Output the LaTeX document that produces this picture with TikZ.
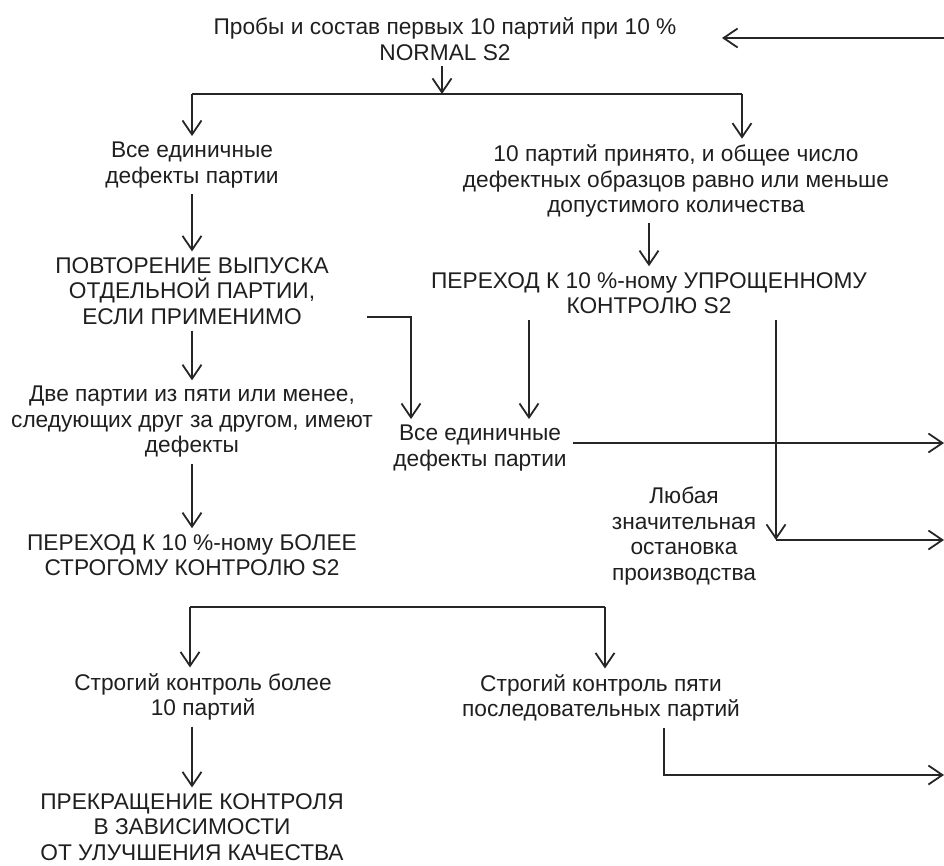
\documentclass[tikz,border=0pt]{standalone}
\usepackage{fontspec}
\setmainfont{Liberation Sans}
\usepackage{tikz}
\usetikzlibrary{arrows.meta,calc}

\begin{document}
\begin{tikzpicture}[x=1pt,y=-1pt,line width=1.8pt,black!85,
    txt/.style={align=center,inner sep=0pt,outer sep=6pt,text=black!88,
      font=\fontsize{22.7}{25.5}\selectfont},
    flow/.style={-{Straight Barb[length=14pt,width=19pt]}}]
  \useasboundingbox (0,0) rectangle (944,866);

  % left column
  \node[txt] (top) at (445,39) {Пробы и состав первых 10 партий при 10 \%\\NORMAL S2};
  \node[txt] (single) at (192,165) {Все единичные\\дефекты партии};
  \node[txt] (repeat) at (192,291) {ПОВТОРЕНИЕ ВЫПУСКА\\ОТДЕЛЬНОЙ ПАРТИИ,\\ЕСЛИ ПРИМЕНИМО};
  \node[txt] (twoof) at (192,422) {Две партии из пяти или менее,\\следующих друг за другом, имеют\\дефекты};
  \node[txt] (tight) at (192,555) {ПЕРЕХОД К 10 \%-ному БОЛЕЕ\\СТРОГОМУ КОНТРОЛЮ S2};
  % right column
  \node[txt] (accepted) at (676,181) {10 партий принято, и общее число\\дефектных образцов равно или меньше\\допустимого количества};
  \node[txt] (reduced) at (649,293) {ПЕРЕХОД К 10 \%-ному УПРОЩЕННОМУ\\КОНТРОЛЮ S2};
  \node[txt] (single') at (480,448) {Все единичные\\дефекты партии};
  \node[txt] (halt) at (684,536) {Любая\\значительная\\остановка\\производства};
  % bottom
  \node[txt] (tight10) at (203,697) {Строгий контроль более\\10 партий};
  \node[txt] (tight5) at (601,698) {Строгий контроль пяти\\последовательных партий};
  \node[txt] (stop) at (192,827) {ПРЕКРАЩЕНИЕ КОНТРОЛЯ\\В ЗАВИСИМОСТИ\\ОТ УЛУЧШЕНИЯ КАЧЕСТВА};

  \coordinate (splitL) at (192,94);
  \coordinate (splitR) at (742,94);
  \coordinate (back) at (944,38);
  \coordinate (backin) at (722,38);
  \coordinate (repout) at (367,317);
  \coordinate (knee) at (411,317);
  \coordinate (redL) at (529,317);
  \coordinate (redR) at (776,317);
  \coordinate (outA) at (944,443);
  \coordinate (outB) at (944,540);
  \coordinate (jL) at (190,607);
  \coordinate (jR) at (605,607);
  \coordinate (c5) at (664,775);
  \coordinate (outC) at (944,775);

  \draw[flow] (back) -- (backin);
  \draw[flow] (top.south -| 442,0) -- (442,94);
  \draw (splitL) -- (splitR);
  \draw[flow] (splitL) -- (splitL |- single.north);
  \draw[flow] (splitR) -- (splitR |- accepted.north);

  \draw[flow] (single) -- (repeat);
  \draw[flow] (repeat) -- (twoof);
  \draw[flow] (twoof) -- (tight);
  \draw[flow] (repout) -- (knee) -- (knee |- single'.north);

  \draw[flow] (reduced.north |- accepted.south) -- (reduced.north);
  \draw[flow] (reduced.south -| redL) -- (redL |- single'.north);
  \draw[flow] (single'.east |- outA) -- (outA);
  \draw[flow] (reduced.south -| redR) -- (redR |- outB);
  \draw[flow] (redR |- outB) -- (outB);

  \draw (jL) -- (jR);
  \draw[flow] (jL) -- (jL |- tight10.north);
  \draw[flow] (jR) -- (jR |- tight5.north);
  \draw[flow] (stop.north |- tight10.south) -- (stop.north);
  \draw[flow] (tight5.south -| c5) -- (c5) -- (outC);
\end{tikzpicture}
\end{document}
